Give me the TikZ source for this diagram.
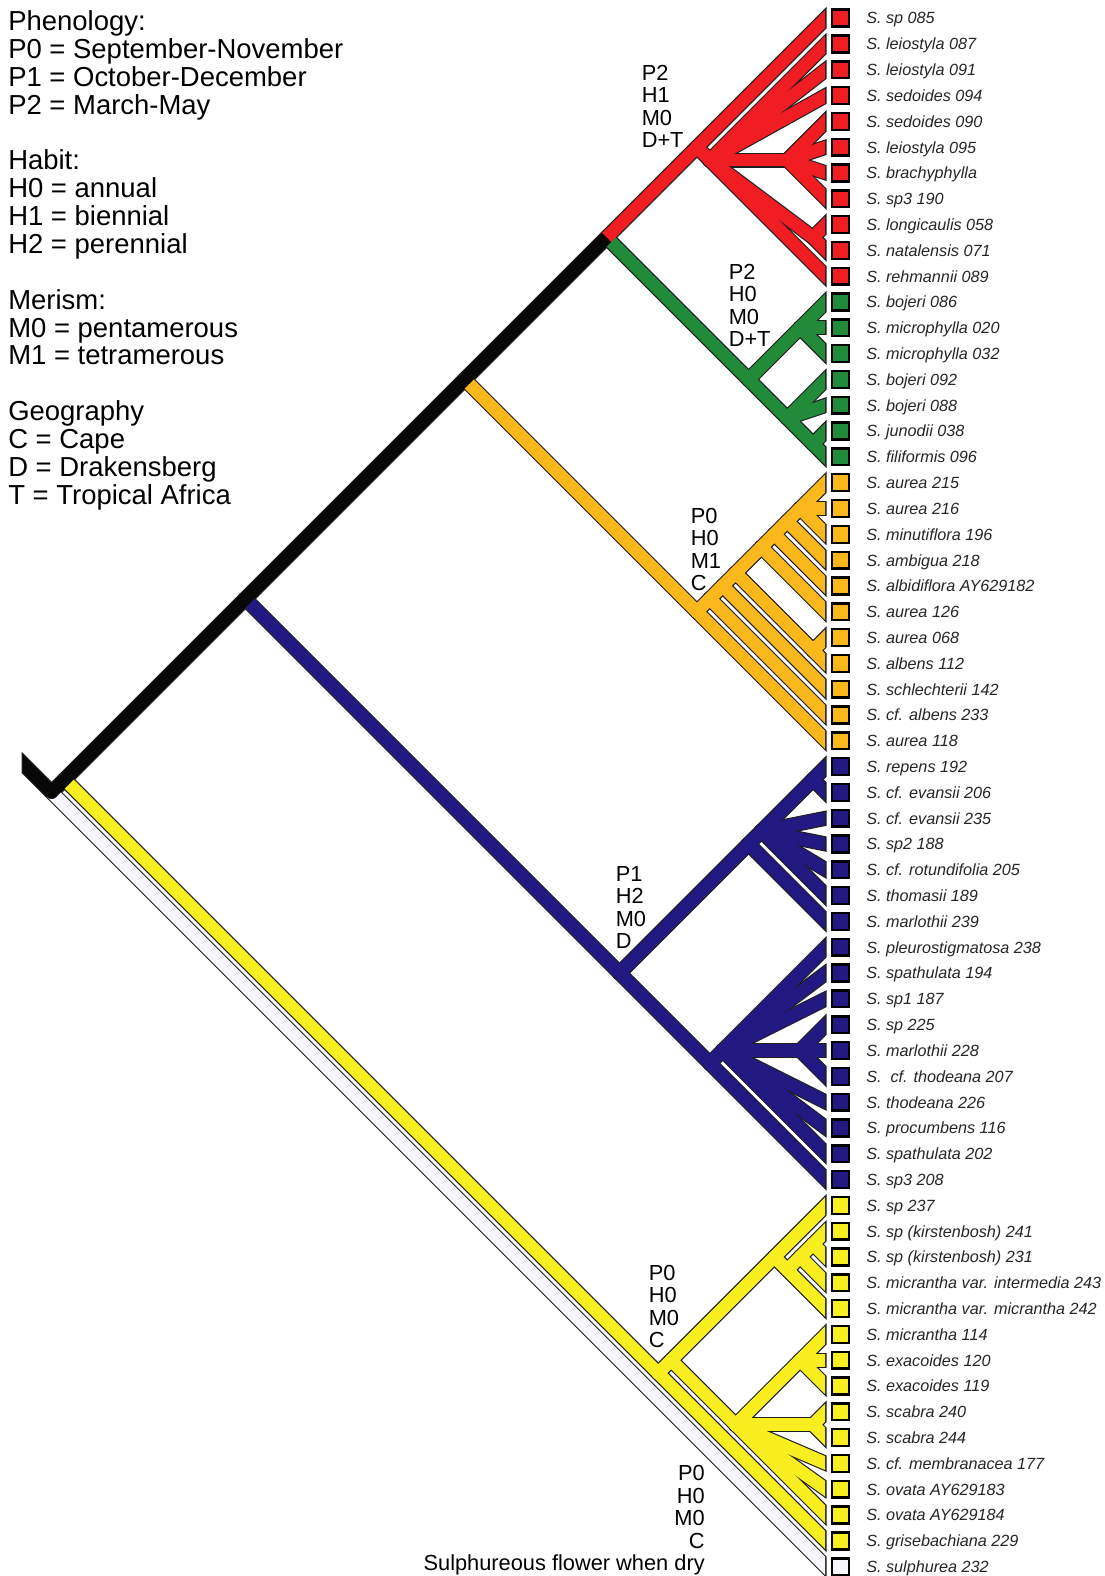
\documentclass[tikz,border=0pt]{standalone}
\usepackage{fontspec}
\setmainfont{Liberation Sans}
\usetikzlibrary{calc}
\definecolor{cred}{RGB}{240,30,35}
\definecolor{cgreen}{RGB}{34,139,58}
\definecolor{corange}{RGB}{250,184,28}
\definecolor{cblue}{RGB}{35,25,130}
\definecolor{cyellow}{RGB}{248,238,32}
\definecolor{cwhite}{RGB}{246,246,252}
\definecolor{cblack}{RGB}{8,8,8}
\definecolor{coutl}{RGB}{30,30,30}
\newcommand{\apx}[3]{\coordinate (#1) at ({826-(#3-#2)*12.905},{(#2+#3)*12.905-7.71});}
\newcommand{\edgesall}{%
\draw[ec=cwhite,le] (A) -- (L61);
% yellow
\draw[ec=cyellow] (B) -- (Yc);
\draw[ec=cyellow,le] (Yc) -- (L60);
\draw[ec=cyellow] (Yc) -- (y1);
\draw[ec=cyellow] (y1) -- (y2);
\draw[ec=cyellow] (y1) -- (y3);
\draw[ec=cyellow,le] (y2) -- (L47);
\draw[ec=cyellow] (y2) -- (y4);
\draw[ec=cyellow,le] (y4) -- (L51);
\draw[ec=cyellow] (y4) -- (y5);
\draw[ec=cyellow,le] (y5) -- (L50);
\draw[ec=cyellow] (y5) -- (y6);
\draw[ec=cyellow,le] (y6) -- (L48);
\draw[ec=cyellow,le] (y6) -- (L49);
\draw[ec=cyellow] (y3) -- (y7);
\draw[ec=cyellow] (y3) -- (y8);
\foreach \k in {57,58,59} {\draw[ec=cyellow,le] (y3) -- (L\k);}
\foreach \k in {52,53,54} {\draw[ec=cyellow,le] (y7) -- (L\k);}
\foreach \k in {55,56} {\draw[ec=cyellow,le] (y8) -- (L\k);}
% blue
\draw[ec=cblue] (C) -- (Bl);
\draw[ec=cblue] (Bl) -- (U);
\draw[ec=cblue] (Bl) -- (Lb);
\draw[ec=cblue] (U) -- (V);
\draw[ec=cblue,le] (U) -- (L36);
\draw[ec=cblue] (V) -- (W);
\foreach \k in {32,33,34,35} {\draw[ec=cblue,le] (V) -- (L\k);}
\foreach \k in {30,31} {\draw[ec=cblue,le] (W) -- (L\k);}
\draw[ec=cblue] (Lb) -- (M);
\draw[ec=cblue,le] (Lb) -- (L46);
\foreach \k in {37,38,39,43,44,45} {\draw[ec=cblue,le] (M) -- (L\k);}
\draw[ec=cblue] (M) -- (K);
\foreach \k in {40,41,42} {\draw[ec=cblue,le] (K) -- (L\k);}
% orange
\draw[ec=corange] (D) -- (O);
\draw[ec=corange,le] (O) -- (L29);
\draw[ec=corange] (O) -- (o1);
\draw[ec=corange,le] (o1) -- (L28);
\draw[ec=corange] (o1) -- (o2);
\draw[ec=corange,le] (o2) -- (L27);
\draw[ec=corange] (o2) -- (o3);
\draw[ec=corange] (o3) -- (o4);
\draw[ec=corange] (o3) -- (o5);
\foreach \k in {25,26} {\draw[ec=corange,le] (o5) -- (L\k);}
\draw[ec=corange,le] (o4) -- (L24);
\draw[ec=corange] (o4) -- (o6);
\draw[ec=corange,le] (o6) -- (L23);
\draw[ec=corange] (o6) -- (o7);
\draw[ec=corange,le] (o7) -- (L22);
\draw[ec=corange] (o7) -- (o8);
\foreach \k in {19,20,21} {\draw[ec=corange,le] (o8) -- (L\k);}
% green
\draw[ec=cgreen] (E) -- (G);
\draw[ec=cgreen] (G) -- (g1);
\draw[ec=cgreen] (G) -- (g2);
\foreach \k in {12,13,14} {\draw[ec=cgreen,le] (g1) -- (L\k);}
\foreach \k in {15,16} {\draw[ec=cgreen,le] (g2) -- (L\k);}
\draw[ec=cgreen] (g2) -- (g3);
\foreach \k in {17,18} {\draw[ec=cgreen,le] (g3) -- (L\k);}
% red
\draw[ec=cred] (E) -- (R);
\draw[ec=cred,le] (R) -- (L1);
\draw[ec=cred] (R) -- (N2);
\foreach \k in {2,3,4,11} {\draw[ec=cred,le] (N2) -- (L\k);}
\draw[ec=cred] (N2) -- (X);
\foreach \k in {5,6,7,8} {\draw[ec=cred,le] (X) -- (L\k);}
\draw[ec=cred] (N2) -- (Y9);
\foreach \k in {9,10} {\draw[ec=cred,le] (Y9) -- (L\k);}
% black spine on top
\draw[ec=cblack] (stem) -- (A);
\draw[ec=cblack] (A) -- (B);
\draw[ec=cblack] (B) -- (C);
\draw[ec=cblack] (C) -- (D);
\draw[ec=cblack,line cap=butt] (D) -- (E);
}
\begin{document}
\begin{tikzpicture}[x=0.75pt,y=-0.75pt,
  le/.style={shorten >=-12pt},
  sq/.style={rectangle,draw=black,line width=1.8pt,minimum size=12.6pt,inner sep=0pt},
  lab/.style={anchor=base west,inner sep=0pt,text=black!85,font=\fontsize{12.15}{14}\selectfont\itshape},
  bl/.style={anchor=north west,align=left,inner sep=0pt,font=\fontsize{16.35}{16.85}\selectfont}]
\useasboundingbox (0,0) rectangle (1105,1576);
\fill[white] (0,0) rectangle (1105,1576);
% coordinates
\foreach \i in {1,...,61}{\apx{L\i}{\i}{\i}}
\apx{A}{1}{61} \apx{B}{1}{60} \apx{C}{1}{46} \apx{D}{1}{29} \apx{E}{1}{18}
\apx{R}{1}{11} \apx{N2}{2}{11} \apx{X}{5}{8} \apx{Y9}{9}{10}
\apx{G}{12}{18} \apx{g1}{12}{14} \apx{g2}{15}{18} \apx{g3}{17}{18}
\apx{O}{19}{29} \apx{o1}{19}{28} \apx{o2}{19}{27} \apx{o3}{19}{26} \apx{o4}{19}{24}
\apx{o5}{25}{26} \apx{o6}{19}{23} \apx{o7}{19}{22} \apx{o8}{19}{21}
\apx{Bl}{30}{46} \apx{U}{30}{36} \apx{V}{30}{35} \apx{W}{30}{31}
\apx{Lb}{37}{46} \apx{M}{37}{45} \apx{K}{40}{42}
\apx{Yc}{47}{60} \apx{y1}{47}{59} \apx{y2}{47}{51} \apx{y3}{52}{59} \apx{y4}{48}{51}
\apx{y5}{48}{50} \apx{y6}{48}{49} \apx{y7}{52}{54} \apx{y8}{55}{56}
\coordinate (stem) at (10,750.7);
% outline pass
\begin{scope}[ec/.style={draw=coutl,line width=11.3pt,line cap=round,line join=round}]
\clip (21.5,0) rectangle (826.6,1576);
\edgesall
\end{scope}
% colour pass
\begin{scope}[ec/.style={draw=#1,line width=9.6pt,line cap=round,line join=round}]
\clip (22.8,0) rectangle (825.2,1576);
\edgesall
\end{scope}
% leaves
\foreach \i/\c/\t in {
1/cred/S. sp 085, 2/cred/S. leiostyla 087, 3/cred/S. leiostyla 091, 4/cred/S. sedoides 094,
5/cred/S. sedoides 090, 6/cred/S. leiostyla 095, 7/cred/S. brachyphylla, 8/cred/S. sp3 190,
9/cred/S. longicaulis 058, 10/cred/S. natalensis 071, 11/cred/S. rehmannii 089,
12/cgreen/S. bojeri 086, 13/cgreen/S. microphylla 020, 14/cgreen/S. microphylla 032,
15/cgreen/S. bojeri 092, 16/cgreen/S. bojeri 088, 17/cgreen/S. junodii 038, 18/cgreen/S. filiformis 096,
19/corange/S. aurea 215, 20/corange/S. aurea 216, 21/corange/S. minutiflora 196, 22/corange/S. ambigua 218,
23/corange/S. albidiflora AY629182, 24/corange/S. aurea 126, 25/corange/S. aurea 068,
26/corange/S. albens 112, 27/corange/S. schlechterii 142, 28/corange/S. cf. albens 233, 29/corange/S. aurea 118,
30/cblue/S. repens 192, 31/cblue/S. cf. evansii 206, 32/cblue/S. cf. evansii 235, 33/cblue/S. sp2 188,
34/cblue/S. cf. rotundifolia 205, 35/cblue/S. thomasii 189, 36/cblue/S. marlothii 239,
37/cblue/S. pleurostigmatosa 238, 38/cblue/S. spathulata 194, 39/cblue/S. sp1 187, 40/cblue/S. sp 225,
41/cblue/S. marlothii 228, 42/cblue/S.\ \ cf. thodeana 207, 43/cblue/S. thodeana 226,
44/cblue/S. procumbens 116, 45/cblue/S. spathulata 202, 46/cblue/S. sp3 208,
47/cyellow/S. sp 237, 48/cyellow/S. sp (kirstenbosh) 241, 49/cyellow/S. sp (kirstenbosh) 231,
50/cyellow/S. micrantha var. intermedia 243, 51/cyellow/S. micrantha var. micrantha 242,
52/cyellow/S. micrantha 114, 53/cyellow/S. exacoides 120, 54/cyellow/S. exacoides 119,
55/cyellow/S. scabra 240, 56/cyellow/S. scabra 244, 57/cyellow/S. cf. membranacea 177,
58/cyellow/S. ovata AY629183, 59/cyellow/S. ovata AY629184, 60/cyellow/S. grisebachiana 229,
61/cwhite/S. sulphurea 232}{
  \node[sq,fill=\c] (s\i) at ($(L\i)+(14.5,0)$) {};
  \node[lab] (t\i) at ($(L\i)+(40,5.9)$) {\t};
}
% legend
\node[anchor=north west,align=left,inner sep=0pt,font=\fontsize{20.6}{20.9}\selectfont] (legend) at (8,10.3)
 {Phenology:\\P0 = September-November\\P1 = October-December\\P2 = March-May\\[20.9pt]
  Habit:\\H0 = annual\\H1 = biennial\\H2 = perennial\\[20.9pt]
  Merism:\\M0 = pentamerous\\M1 = tetramerous\\[20.9pt]
  Geography\\C = Cape\\D = Drakensberg\\T = Tropical Africa};
% clade labels
\node[bl] (lr) at (641.5,64.7) {P2\\H1\\M0\\D+T};
\node[bl] (lg) at (728.5,263.9) {P2\\H0\\M0\\D+T};
\node[bl] (lo) at (690.5,508) {P0\\H0\\M1\\C};
\node[bl] (lbl) at (615.5,866) {P1\\H2\\M0\\D};
\node[bl] (ly) at (648.5,1264.7) {P0\\H0\\M0\\C};
\node[bl,anchor=north east,align=right] (lw) at (705,1465.2) {P0\\H0\\M0\\C\\Sulphureous flower when dry};
\end{tikzpicture}
\end{document}
